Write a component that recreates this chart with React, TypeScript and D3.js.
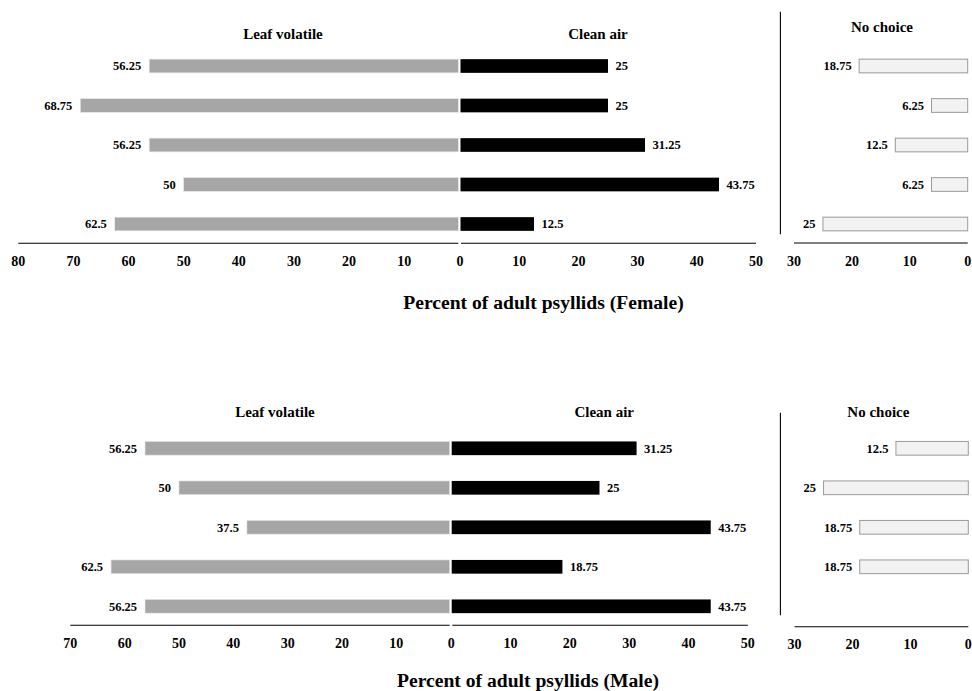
import React from 'react';
import * as d3 from 'd3';

// ---- Data ----
const rows = ['r1', 'r2', 'r3', 'r4', 'r5'];

const femaleLeaf = [56.25, 68.75, 56.25, 50, 62.5];
const femaleClean = [25, 25, 31.25, 43.75, 12.5];
const femaleNoChoice = [18.75, 6.25, 12.5, 6.25, 25];

const maleLeaf = [56.25, 50, 37.5, 62.5, 56.25];
const maleClean = [31.25, 25, 43.75, 18.75, 43.75];
const maleNoChoice = [12.5, 25, 18.75, 18.75, 0];

const femaleLeafTicks = [10, 20, 30, 40, 50, 60, 70, 80];
const maleLeafTicks = [10, 20, 30, 40, 50, 60, 70];
const cleanTicks = [0, 10, 20, 30, 40, 50];
const noChoiceTicks = [0, 10, 20, 30];

const leafTitle = 'Leaf volatile';
const cleanTitle = 'Clean air';
const noChoiceTitle = 'No choice';
const femaleAxisTitle = 'Percent of adult psyllids (Female)';
const maleAxisTitle = 'Percent of adult psyllids (Male)';

const FONT = '"Liberation Serif", "Times New Roman", Times, serif';
const LEAF_COLOR = '#a6a6a6';
const CLEAN_COLOR = '#000000';
const NC_FILL = '#f2f2f2';
const NC_STROKE = '#9a9a9a';

type PanelProps = {
  leaf: number[];
  clean: number[];
  noChoice: number[];
  leafTicks: number[];
  leafMax: number;
  leafRange: [number, number];
  cleanRange: [number, number];
  ncRange: [number, number];
  bandRange: [number, number];
  axisY: number;
  ncAxisY: number;
  tickY: number;
  ncTickY: number;
  vLine: { x: number; y1: number; y2: number };
  titlePos: { leaf: [number, number]; clean: [number, number]; nc: [number, number] };
  axisTitle: string;
  axisTitlePos: [number, number];
};

const fmt = (v: number) => String(v);

function Panel(p: PanelProps) {
  const leafX = d3.scaleLinear().domain([0, p.leafMax]).range(p.leafRange);
  const cleanX = d3.scaleLinear().domain([0, 50]).range(p.cleanRange);
  const ncX = d3.scaleLinear().domain([0, 30]).range(p.ncRange);
  const y = d3
    .scaleBand<string>()
    .domain(rows)
    .range(p.bandRange)
    .paddingInner(0.653)
    .paddingOuter(0.3265);
  const bw = y.bandwidth();

  const tickStyle: React.CSSProperties = { fontFamily: FONT, fontWeight: 'bold', fontSize: 14 };
  const labelStyle: React.CSSProperties = { fontFamily: FONT, fontWeight: 'bold', fontSize: 12.5 };
  const titleStyle: React.CSSProperties = { fontFamily: FONT, fontWeight: 'bold', fontSize: 15 };

  return (
    <g>
      {/* Leaf volatile bars */}
      {rows.map((r, i) => {
        const v = p.leaf[i];
        const x0 = leafX(v);
        const x1 = leafX(0) - 1;
        const yy = y(r)!;
        return (
          <g key={'l' + r}>
            <rect x={x0} y={yy} width={Math.max(0, x1 - x0)} height={bw} fill={LEAF_COLOR} stroke="#e6e6e6" strokeWidth={0.6} />
            <text x={x0 - 8} y={yy + bw / 2} dy="0.35em" textAnchor="end" style={labelStyle}>
              {fmt(v)}
            </text>
          </g>
        );
      })}
      {/* Clean air bars */}
      {rows.map((r, i) => {
        const v = p.clean[i];
        const x0 = cleanX(0) + 0.5;
        const x1 = cleanX(v);
        const yy = y(r)!;
        return (
          <g key={'c' + r}>
            <rect x={x0} y={yy} width={Math.max(0, x1 - x0)} height={bw} fill={CLEAN_COLOR} />
            <text x={x1 + 7.5} y={yy + bw / 2} dy="0.35em" textAnchor="start" style={labelStyle}>
              {fmt(v)}
            </text>
          </g>
        );
      })}
      {/* No choice bars */}
      {rows.map((r, i) => {
        const v = p.noChoice[i];
        const x0 = ncX(v);
        const x1 = ncX(0);
        const yy = y(r)!;
        return (
          <g key={'n' + r}>
            <rect x={x0} y={yy} width={Math.max(0, x1 - x0)} height={bw} fill={NC_FILL} stroke={NC_STROKE} strokeWidth={1} />
            {v > 0 && (
              <text x={x0 - 7.5} y={yy + bw / 2} dy="0.35em" textAnchor="end" style={labelStyle}>
                {fmt(v)}
              </text>
            )}
          </g>
        );
      })}

      {/* Axes lines */}
      <line x1={leafX(p.leafMax)} x2={leafX(0) - 1} y1={p.axisY} y2={p.axisY} stroke="#000" strokeWidth={1.1} />
      <line x1={cleanX(0) + 1} x2={cleanX(50)} y1={p.axisY} y2={p.axisY} stroke="#000" strokeWidth={1.1} />
      <line x1={ncX(30)} x2={ncX(0)} y1={p.ncAxisY} y2={p.ncAxisY} stroke="#000" strokeWidth={1.1} />

      {/* Tick labels */}
      {p.leafTicks.map((t) => (
        <text key={'lt' + t} x={leafX(t)} y={p.tickY} textAnchor="middle" style={tickStyle}>
          {t}
        </text>
      ))}
      {cleanTicks.map((t) => (
        <text key={'ct' + t} x={cleanX(t)} y={p.tickY} textAnchor="middle" style={tickStyle}>
          {t}
        </text>
      ))}
      {noChoiceTicks.map((t) => (
        <text key={'nt' + t} x={ncX(t)} y={p.ncTickY} textAnchor="middle" style={tickStyle}>
          {t}
        </text>
      ))}

      {/* Separator */}
      <line x1={p.vLine.x} x2={p.vLine.x} y1={p.vLine.y1} y2={p.vLine.y2} stroke="#000" strokeWidth={1.1} />

      {/* Titles */}
      <text x={p.titlePos.leaf[0]} y={p.titlePos.leaf[1]} textAnchor="middle" style={titleStyle}>
        {leafTitle}
      </text>
      <text x={p.titlePos.clean[0]} y={p.titlePos.clean[1]} textAnchor="middle" style={titleStyle}>
        {cleanTitle}
      </text>
      <text x={p.titlePos.nc[0]} y={p.titlePos.nc[1]} textAnchor="middle" style={titleStyle}>
        {noChoiceTitle}
      </text>
      <text
        x={p.axisTitlePos[0]}
        y={p.axisTitlePos[1]}
        textAnchor="middle"
        style={{ fontFamily: FONT, fontWeight: 'bold', fontSize: 19.6 }}
      >
        {p.axisTitle}
      </text>
    </g>
  );
}

export default function App() {
  return (
    <svg
      width={972}
      height={691}
      viewBox="0 0 972 691"
      style={{ position: 'absolute', left: 0, top: 0, display: 'block', background: '#fff' }}
    >
      <rect x={0} y={0} width={972} height={691} fill="#fff" />
      <Panel
        leaf={femaleLeaf}
        clean={femaleClean}
        noChoice={femaleNoChoice}
        leafTicks={femaleLeafTicks}
        leafMax={80}
        leafRange={[459.3, 18.3]}
        cleanRange={[460, 756]}
        ncRange={[967.7, 794]}
        bandRange={[46.25, 243.75]}
        axisY={243.3}
        ncAxisY={243}
        tickY={266}
        ncTickY={266}
        vLine={{ x: 780.4, y1: 11.7, y2: 234.3 }}
        titlePos={{ leaf: [283, 38.5], clean: [598, 39], nc: [882, 31.7] }}
        axisTitle={femaleAxisTitle}
        axisTitlePos={[543.5, 308.5]}
      />
      <Panel
        leaf={maleLeaf}
        clean={maleClean}
        noChoice={maleNoChoice}
        leafTicks={maleLeafTicks}
        leafMax={70}
        leafRange={[450.7, 70.3]}
        cleanRange={[451.2, 747.8]}
        ncRange={[968.3, 794.6]}
        bandRange={[428.55, 626.05]}
        axisY={625.3}
        ncAxisY={626.7}
        tickY={648}
        ncTickY={649}
        vLine={{ x: 780.4, y1: 412.7, y2: 615.3 }}
        titlePos={{ leaf: [275, 417.3], clean: [604.2, 417.3], nc: [878.4, 416.7] }}
        axisTitle={maleAxisTitle}
        axisTitlePos={[528, 687]}
      />
    </svg>
  );
}
